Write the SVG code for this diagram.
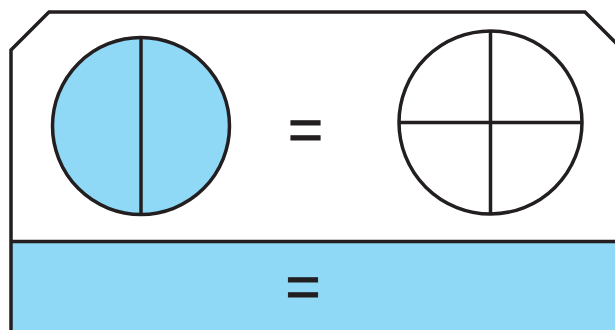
<svg xmlns="http://www.w3.org/2000/svg" width="615" height="330" viewBox="0 0 615 330">
<style>
.ln{fill:none;stroke:#231f20;stroke-width:3.5}
.eq{font-family:"Liberation Sans",Arial,sans-serif;font-size:60px;fill:#231f20;stroke:#231f20;stroke-width:1;text-anchor:middle}
</style>
<rect width="615" height="330" fill="#ffffff"/>
<g id="card">
<rect x="11" y="241.5" width="610" height="95" fill="#8fd9f6"/>
<path class="ln" d="M11,336 V50 L49,12 H585 L620,47"/>
<line class="ln" x1="11" y1="241.5" x2="620" y2="241.5"/>
</g>
<g id="half">
<circle cx="141" cy="126" r="88.5" fill="#8fd9f6" stroke="#231f20" stroke-width="3.5"/>
<line class="ln" x1="141" y1="37.5" x2="141" y2="214.5"/>
</g>
<g id="eq1"><text class="eq" x="305.5" y="150">=</text></g>
<g id="quarters">
<circle cx="490.5" cy="122.5" r="91.5" fill="#ffffff" stroke="#231f20" stroke-width="3.5"/>
<line class="ln" x1="490.5" y1="31" x2="490.5" y2="214"/>
<line class="ln" x1="399" y1="122.5" x2="582" y2="122.5"/>
</g>
<g id="eq2"><text class="eq" x="303" y="307">=</text></g>
</svg>
